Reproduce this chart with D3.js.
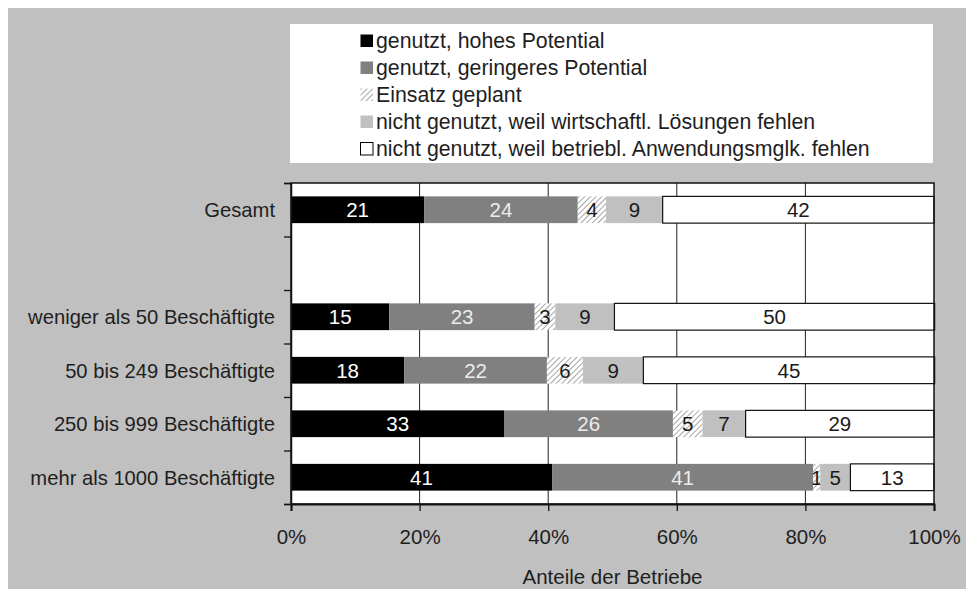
<!DOCTYPE html>
<html>
<head>
<meta charset="utf-8">
<script src="https://cdn.jsdelivr.net/npm/d3@7"></script>
<style>
  html, body { margin: 0; padding: 0; background: #fff; }
  svg { display: block; }
  text { font-family: "Liberation Sans", Arial, sans-serif; }
</style>
</head>
<body>
<svg id="chart" width="966" height="589"></svg>
<script>
// ---- data ----
const categories = ["Gesamt", "", "weniger als 50 Beschäftigte", "50 bis 249 Beschäftigte", "250 bis 999 Beschäftigte", "mehr als 1000 Beschäftigte"];
const seriesNames = [
  "genutzt, hohes Potential",
  "genutzt, geringeres Potential",
  "Einsatz geplant",
  "nicht genutzt, weil wirtschaftl. Lösungen fehlen",
  "nicht genutzt, weil betriebl. Anwendungsmglk. fehlen"
];
// values per category (percent), in series order; null = empty slot
const hohesPotential      = [20.7, null, 15.3, 17.6, 33.2, 40.6];
const geringeresPotential = [23.9, null, 22.6, 22.2, 26.2, 40.6];
const einsatzGeplant      = [4.4,  null, 3.2,  5.6,  4.6,  1.1];
const wirtschaftlFehlen   = [8.8,  null, 9.2,  9.4,  6.7,  4.7];
const betrieblFehlen      = [42.2, null, 49.8, 45.3, 29.3, 13.0];
const xTicks = [0, 20, 40, 60, 80, 100];
const xAxisTitle = "Anteile der Betriebe";

// ---- styles ----
const fills = ["#000000", "#808080", "url(#hatch)", "#c0c0c0", "#ffffff"];
const labelColors = ["#ffffff", "#ececec", "#1a1a1a", "#1a1a1a", "#1a1a1a"];
const textColor = "#1e1e1e";

const svg = d3.select("#chart");
const W = 966, H = 589;

const defs = svg.append("defs");
const pat = defs.append("pattern")
  .attr("id", "hatch").attr("patternUnits", "userSpaceOnUse")
  .attr("width", 4).attr("height", 4)
  .attr("patternTransform", "rotate(45)");
pat.append("rect").attr("width", 4).attr("height", 4).attr("fill", "#fff");
pat.append("line").attr("x1", 0).attr("y1", 0).attr("x2", 0).attr("y2", 4)
  .attr("stroke", "#a6a6a6").attr("stroke-width", 2);

// background
svg.append("rect").attr("x", 0).attr("y", 0).attr("width", W).attr("height", H).attr("fill", "#fff");
svg.append("rect").attr("x", 8).attr("y", 8).attr("width", W - 8).attr("height", H - 8).attr("fill", "#c0c0c0");

// plot geometry
const pLeft = 291, pRight = 934, pTop = 183, pBottom = 504;

const x = d3.scaleLinear().domain([0, 100]).range([pLeft, pRight]);
const keys = categories.map((c, i) => c === "" ? "__blank" + i : c);
const y = d3.scaleBand().domain(keys).range([pTop, pBottom]).paddingInner(0.5).paddingOuter(0.25);
const yb = d3.scaleLinear().domain([0, categories.length]).range([pTop, pBottom]);

// legend
const legX = 290, legY = 24, legW = 643, legH = 139;
svg.append("rect").attr("x", legX).attr("y", legY).attr("width", legW).attr("height", legH).attr("fill", "#fff");
const legRow = d3.scaleLinear().domain([0, 4]).range([41, 149]);
const leg = svg.append("g").selectAll("g").data(seriesNames).join("g")
  .attr("transform", (d, i) => `translate(360,${legRow(i)})`);
leg.append("rect").attr("x", 0.5).attr("y", -6.5).attr("width", 12.5).attr("height", 12.5)
  .attr("fill", (d, i) => fills[i])
  .attr("stroke", (d, i) => i === 4 ? "#000" : "none").attr("stroke-width", 1);
leg.append("text").attr("x", 16).attr("y", 0).attr("dy", "0.35em")
  .attr("font-size", 21.3).attr("fill", textColor).text(d => d);

// plot background
svg.append("rect").attr("x", pLeft).attr("y", pTop).attr("width", pRight - pLeft).attr("height", pBottom - pTop).attr("fill", "#fff");

// gridlines
svg.append("g").selectAll("line").data(xTicks.filter(t => t > 0 && t < 100)).join("line")
  .attr("x1", d => x(d)).attr("x2", d => x(d)).attr("y1", pTop).attr("y2", pBottom)
  .attr("stroke", "#222").attr("stroke-width", 1);

// stacked data
const seriesArrays = [hohesPotential, geringeresPotential, einsatzGeplant, wirtschaftlFehlen, betrieblFehlen];
const rows = categories.map((c, i) => {
  const o = { key: keys[i] };
  seriesArrays.forEach((arr, s) => o["s" + s] = arr[i] == null ? 0 : arr[i]);
  o.blank = hohesPotential[i] == null;
  return o;
}).filter(r => !r.blank);
const stack = d3.stack().keys(seriesNames.map((d, i) => "s" + i));
const stacked = stack(rows);

const layers = svg.append("g").selectAll("g").data(stacked).join("g");
layers.selectAll("rect").data(d => d.map(p => ({ p, si: d.index }))).join("rect")
  .attr("x", d => x(d.p[0]))
  .attr("y", d => y(d.p.data.key))
  .attr("width", d => x(d.p[1]) - x(d.p[0]))
  .attr("height", y.bandwidth())
  .attr("fill", d => fills[d.si])
  .attr("stroke", d => d.si === 4 ? "#111" : "none")
  .attr("stroke-width", 1.2);

layers.selectAll("text").data(d => d.map(p => ({ p, si: d.index }))).join("text")
  .attr("x", d => x((d.p[0] + d.p[1]) / 2))
  .attr("y", d => y(d.p.data.key) + y.bandwidth() / 2)
  .attr("dy", "0.36em")
  .attr("text-anchor", "middle")
  .attr("font-size", 20.5)
  .attr("fill", d => labelColors[d.si])
  .text(d => d3.format(".0f")(d.p[1] - d.p[0]));

// frame
svg.append("rect").attr("x", pLeft).attr("y", pTop).attr("width", pRight - pLeft).attr("height", pBottom - pTop)
  .attr("fill", "none").attr("stroke", "#111").attr("stroke-width", 1.5);

// y axis: ticks at band boundaries
const yAxis = svg.append("g").attr("transform", `translate(${pLeft},0)`)
  .call(d3.axisLeft(yb).tickValues(d3.range(0, categories.length + 1)).tickSize(7).tickFormat(""));
yAxis.selectAll("line").attr("stroke", "#111").attr("stroke-width", 1.3);
yAxis.select(".domain").attr("stroke", "#111").attr("stroke-width", 1.5);

// y category labels
svg.append("g").selectAll("text").data(categories.filter(c => c !== "")).join("text")
  .attr("x", 275)
  .attr("y", d => y(d) + y.bandwidth() / 2)
  .attr("dy", "0.36em")
  .attr("text-anchor", "end")
  .attr("font-size", 20.2)
  .attr("fill", textColor)
  .text(d => d);

// x axis
const xAxis = svg.append("g").attr("transform", `translate(0,${pBottom})`)
  .call(d3.axisBottom(x).tickValues(xTicks).tickSize(7).tickPadding(18).tickFormat(d => d + "%"));
xAxis.selectAll("line").attr("stroke", "#111").attr("stroke-width", 1.3);
xAxis.select(".domain").attr("stroke", "#111").attr("stroke-width", 2);
xAxis.selectAll("text").attr("font-size", 20.5).attr("fill", textColor)
  .attr("font-family", "Liberation Sans, Arial, sans-serif");

svg.append("text").attr("x", (pLeft + pRight) / 2).attr("y", 584)
  .attr("text-anchor", "middle").attr("font-size", 20.5).attr("fill", textColor)
  .text(xAxisTitle);
</script>
</body>
</html>
